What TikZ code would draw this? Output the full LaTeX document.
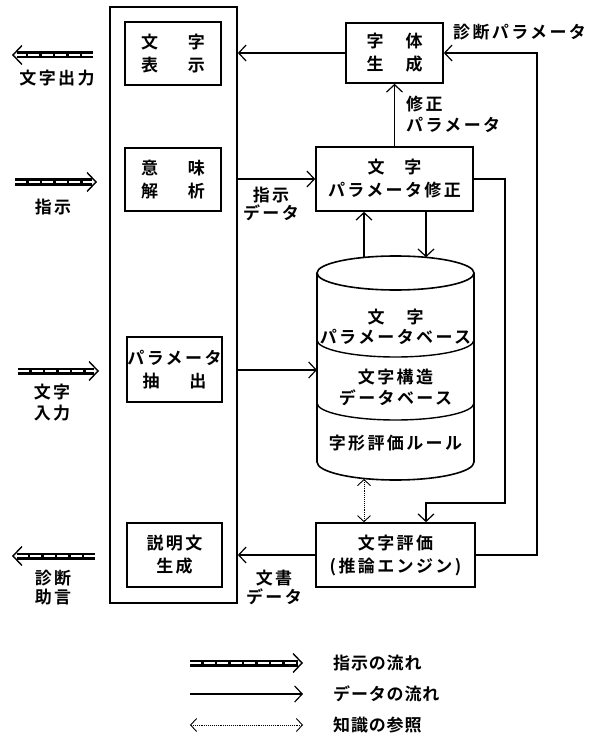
\documentclass[tikz,border=0pt]{standalone}
\usepackage{fontspec}
\setmainfont{Noto Sans CJK JP Bold}[LetterSpace=14]
\newfontfamily\legfont{Noto Sans CJK JP Bold}[LetterSpace=5]
\usetikzlibrary{arrows.meta,calc}

\newcommand\instarrow[2]{%
  \draw[line width=7pt] (#1) -- ($(#2)!5pt!(#1)$);
  \draw[white,line width=2.8pt,dash pattern=on 11pt off 2.5pt] (#1) -- ($(#2)!5pt!(#1)$);
  \draw[line width=1.4pt,-{Straight Barb[length=9pt,width=19pt]}] ($(#2)!1pt!(#1)$) -- (#2);
}

\begin{document}
\begin{tikzpicture}[x=1pt,y=-1pt,
  every node/.style={font=\fontsize{17}{23}\selectfont, align=center, inner sep=0pt},
  box/.style={draw, line width=1.6pt},
  dat/.style={line width=1.2pt, -{Straight Barb[length=7.5pt,width=16pt]}},
  know/.style={line width=0.9pt, densely dotted, {Straight Barb[length=6pt,width=13pt]}-{Straight Barb[length=6pt,width=13pt]}},
  lbl/.style={font=\fontsize{17}{20}\selectfont},
  leg/.style={anchor=west, font=\legfont\fontsize{17}{18}\selectfont},
  ]
\useasboundingbox (0,0) rectangle (595,738);

% left frame and its boxes
\node[box, minimum width=127pt, minimum height=596pt] (big) at (173.5,305) {};
\node[box, minimum width=96pt, minimum height=63pt] (hyoji) at (173,53.5) {文\hspace{30pt}字\\表\hspace{30pt}示};
\node[box, minimum width=96pt, minimum height=63pt] (imi) at (173,179.5) {意\hspace{30pt}味\\解\hspace{30pt}析};
\node[box, minimum width=95pt, minimum height=65pt] (chu) at (174.5,369.5) {\makebox[0pt]{パラメータ}\\抽\hspace{30pt}出};
\node[box, minimum width=95pt, minimum height=64pt] (setsu) at (174.5,555) {説明文\\生成};

% right boxes
\node[box, minimum width=97pt, minimum height=60pt] (jitai) at (394.5,53) {字\hspace{22pt}体\\生\hspace{22pt}成};
\node[box, minimum width=157pt, minimum height=64pt] (shusei) at (394.5,179) {文\hspace{20pt}字\\パラメータ修正};
\node[box, minimum width=159pt, minimum height=64pt] (hyoka) at (395.5,555) {文字評価\\(推論エンジン)};

% cylinder (database)
\draw[line width=1.6pt] (395.5,273) ellipse [x radius=78.5, y radius=17];
\draw[line width=1.6pt] (317,273) -- (317,462) arc[start angle=180,end angle=0,x radius=78.5,y radius=18] -- (474,273);
\draw[line width=1.4pt] (317,340) arc[start angle=180,end angle=0,x radius=78.5,y radius=17];
\draw[line width=1.4pt] (317,403) arc[start angle=180,end angle=0,x radius=78.5,y radius=17];
\node[font=\fontsize{17}{20}\selectfont] (db1) at (395.5,327) {文\hspace{22pt}字\\\makebox[0pt]{パラメータベース}};
\node[font=\fontsize{17}{21}\selectfont] (db2) at (395.5,387.5) {文字構造\\データベース};
\node (db3) at (395.5,443) {字形評価ルール};

% labels
\node[lbl, anchor=west, align=left, font=\fontsize{17}{21}\selectfont] (shl) at (406,114.5) {修正\\パラメータ};
\node[lbl, anchor=west] (spl) at (453,32) {診断パラメータ};
\node[lbl, font=\fontsize{17}{18}\selectfont] (sjl) at (271,204) {指示\\データ};
\node[lbl, font=\fontsize{17}{19}\selectfont] (bdl) at (274,587.5) {文書\\データ};
\node[lbl] (outl) at (57,78) {文字出力};
\node[lbl] (insl) at (53,207) {指示};
\node[lbl, font=\fontsize{17}{21}\selectfont] (inpl) at (52,402.5) {文字\\入力};
\node[lbl, font=\fontsize{17}{19}\selectfont] (adl) at (53,587.5) {診断\\助言};

% instruction flows (left side)
\coordinate (o1) at (93,55);  \coordinate (o2) at (12,55);
\coordinate (i1) at (15,182); \coordinate (i2) at (97,182);
\coordinate (c1) at (18,371); \coordinate (c2) at (99,371);
\coordinate (d1) at (95,556); \coordinate (d2) at (12,556);
\instarrow{o1}{o2}
\instarrow{i1}{i2}
\instarrow{c1}{c2}
\instarrow{d1}{d2}

% data flows
\draw[dat] (jitai.west) -- (jitai.west -| big.east);
\draw[dat] (shusei.west -| big.east) -- (shusei.west);
\draw[dat] (shusei.north) -- (jitai.south);
\coordinate (cu) at (364,257.4);
\coordinate (cd) at (426,257.3);
\draw[dat] (cu) -- (cu |- shusei.south);
\draw[dat] (cd |- shusei.south) -- (cd);
\coordinate (k1) at (505,503);
\draw[dat] (shusei.east) -| (k1) -- (k1 -| cd) -- (cd |- hyoka.north);
\coordinate (k2) at (537,53);
\draw[dat] (hyoka.east) -| (k2) -- (jitai.east);
\coordinate (cw) at (317,370);
\draw[dat] (cw -| big.east) -- (cw);
\coordinate (cb) at (364,479);
\draw[know] (cb) -- (cb |- hyoka.north);
\draw[dat] (hyoka.west) -- (hyoka.west -| big.east);

% legend
\coordinate (la1) at (190,663); \coordinate (la2) at (303,663);
\coordinate (lb1) at (190,694); \coordinate (lb2) at (303,694);
\coordinate (lc1) at (190,725); \coordinate (lc2) at (303,725);
\instarrow{la1}{la2}
\draw[dat] (lb1) -- (lb2);
\draw[know] (lc1) -- (lc2);
\node[leg] (lt1) at (333,663) {指示の流れ};
\node[leg] (lt2) at (333,694) {データの流れ};
\node[leg] (lt3) at (333,725) {知識の参照};
\end{tikzpicture}
\end{document}
